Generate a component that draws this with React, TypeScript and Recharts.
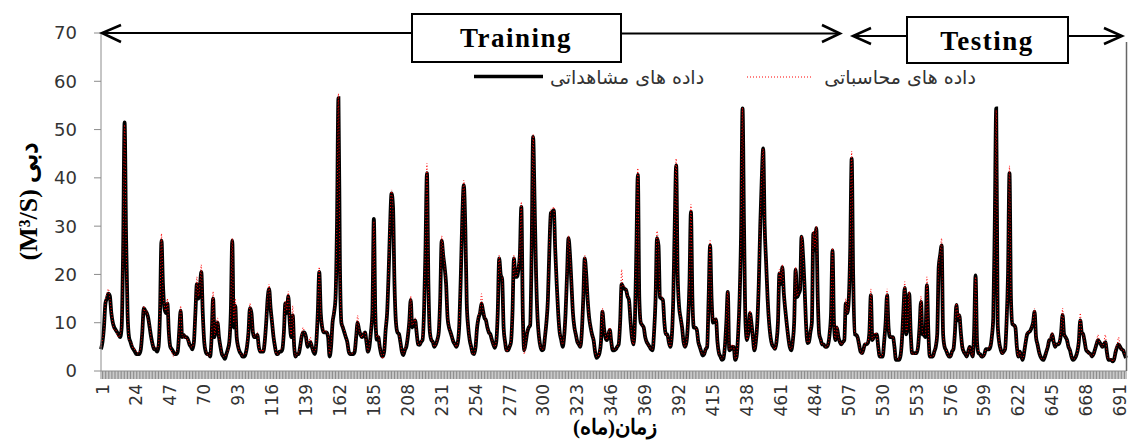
import React from "react";
import { LineChart, Line, XAxis, YAxis } from "recharts";

// monthly discharge (m3/s), observed, training period (months 1-504)
const observedTraining = [
  4.5, 6, 9, 14, 15, 16, 15.5, 12, 10, 9, 8.5, 8,
  7.5, 7, 9, 25, 51.5, 28, 12, 7, 6, 5, 4.5, 4,
  3.5, 3.5, 3.5, 4.5, 8, 13, 12.5, 12, 11, 9, 7, 5.5,
  4.5, 4.5, 4, 5, 12, 27, 18, 13, 12, 14, 8, 5,
  4.5, 4, 3.5, 3.5, 4, 8, 12.5, 7, 7.5, 7, 7, 6.5,
  5.5, 5, 4.5, 6, 12, 18, 15, 17, 20.5, 12, 6, 4,
  3.5, 3.5, 3, 7, 15, 7, 9, 10, 7, 5, 3.5, 3,
  2.5, 3.5, 4.5, 6, 12, 27, 9, 13.5, 7, 5, 4, 3.5,
  3, 3, 3.5, 5, 8, 13, 12, 8, 7, 7, 7.5, 5,
  4, 4, 4, 6, 10, 15, 17, 13, 10, 7, 5, 3.5,
  3.5, 4, 4, 4.5, 8, 14, 12, 15.5, 10, 7, 11.5, 5,
  3, 3.5, 3.5, 5, 7, 8, 8, 7, 5, 5.5, 6, 5,
  4, 3.5, 6, 12, 20.5, 12, 9, 8, 8, 8, 7, 3,
  5, 10, 12, 15, 30, 56.5, 22, 10, 9, 8, 7, 6,
  4, 3.5, 3.5, 3.5, 4, 7, 10, 8.5, 7.5, 7, 7.5, 8,
  6, 4, 5, 8, 12, 31.5, 12, 6.5, 7, 5, 3.5, 3,
  4, 8.5, 12, 20, 30, 36.8, 34, 18, 10, 8, 7.7, 6,
  4, 3.3, 4.3, 5, 7, 10, 14.7, 9, 9.5, 10.5, 8, 5.5,
  5.4, 6, 6.4, 12, 25, 41, 18, 8, 6.4, 6, 5, 5.5,
  6.4, 8, 15, 27, 24, 21.5, 18, 11, 9, 8, 7, 6,
  5.5, 5, 6, 10, 20, 32, 38.5, 30, 14, 9, 6.4, 5,
  3.7, 3.5, 5, 9, 11, 12, 14, 12.5, 11, 10.5, 9, 8,
  7.6, 6.5, 5.5, 4.8, 6, 12, 23.3, 20, 19, 9, 6, 4.3,
  4.3, 5, 6, 12, 23.3, 19.5, 19.5, 21, 24, 34, 12, 4.3,
  6, 8, 9, 9.5, 25, 48.5, 35, 20, 11, 7, 5, 4.3,
  4.5, 7, 10, 14.7, 25, 32.7, 33, 33.3, 25, 18, 12, 8,
  6.5, 5, 7, 12, 20, 27.5, 24, 18, 12, 9, 7.5, 6,
  5.5, 5, 8, 15, 23.3, 20, 14.7, 11, 9, 7.5, 6.4, 4,
  2.7, 3, 3.7, 6, 12.3, 9, 7, 6.4, 7.5, 8.5, 6, 4.3,
  4.3, 4.5, 5, 5.5, 10, 18, 17.4, 17, 16.8, 15.5, 14.7, 10.5,
  7, 5.5, 10, 25, 40.6, 15, 10, 9.5, 9, 7, 6, 5.5,
  5, 4.5, 4.3, 8, 14.7, 27.5, 26, 15.3, 15, 14.7, 10, 7.6,
  7.6, 6, 5, 7, 14.7, 30, 42.6, 20, 13.3, 11, 9, 6,
  5, 6, 10, 18, 33, 15, 9, 9, 8.5, 6, 5, 4,
  3.2, 3.5, 4.5, 5, 15, 26, 15, 10, 10.5, 10.7, 6, 3.7,
  3, 2.3, 2.5, 5, 10, 16.4, 4.3, 4.5, 5, 5, 2.3, 3,
  7.6, 15, 28.5, 54.4, 30, 10, 6.4, 8, 12, 10, 7, 4.3,
  6, 10, 18, 30, 39.5, 46.1, 30, 22.4, 15, 10, 7, 5.5,
  5, 4.6, 6, 10, 20.2, 18, 21.5, 16, 12.6, 9.7, 7, 5,
  4.3, 6, 10, 21, 15.3, 16, 16.8, 27.8, 24, 17.8, 10, 5.8,
  6, 8, 10, 28.5, 25, 29.6, 15, 7.6, 6.5, 5.5, 5.5, 5,
  5, 5.5, 7.6, 12, 25, 10, 6.4, 9, 7, 6, 5.5, 6,
];

// observed, testing period (months 505-696)
const observedTesting = [
  6.4, 14, 12, 14.7, 25, 44, 20, 7.6, 7.5, 7, 5.5, 4,
  3.7, 4.5, 5.5, 5.5, 5.8, 8, 15.7, 6.4, 7, 7.5, 7.6, 5,
  3, 3, 3, 6, 10, 15.7, 9, 7, 7, 7, 5, 2.3,
  2.3, 2.3, 3, 6, 12, 17.2, 7.6, 10, 16, 8, 3.7, 3.7,
  3.7, 3.7, 5, 9, 14.3, 7.6, 7.5, 7, 17.8, 8, 3, 3,
  3, 4, 5, 7.6, 21.5, 24, 26, 7.6, 5, 4.3, 3.5, 3,
  3, 4, 4.5, 8, 13.7, 10.5, 11.5, 8, 5, 4, 3.5, 3,
  4, 5, 4, 3, 8, 19.8, 6, 3.7, 3.5, 3, 3, 3.5,
  4.5, 4.5, 4.5, 5, 7, 11, 30, 54.4, 9.7, 6, 4.5, 3.7,
  4, 4.5, 10, 20, 41, 15, 9.7, 9.5, 9, 5, 3, 4,
  3, 2.3, 4, 6, 7.6, 8, 8.3, 9, 10, 12.3, 7, 5.5,
  4, 3, 2.5, 2.3, 3, 4, 5, 6.4, 6.5, 7.6, 6, 5,
  5.5, 5.5, 6, 8, 11.6, 7.6, 7, 6.4, 5, 4.3, 3, 2.3,
  2.5, 3, 4, 6, 10.5, 8, 7.6, 6, 4.3, 4, 3.7, 3.5,
  3, 3.5, 4.5, 5.5, 6.4, 6, 5.5, 5, 5.5, 6, 4, 2.3,
  2.3, 2.3, 2, 2.5, 4, 5, 5.5, 5, 4.5, 4.3, 3.5, 2.7,
];

// model output, training period
const computedTraining = [
  5, 6.5, 8.5, 14.5, 16, 17, 15, 12.5, 10, 8.5, 8.5, 7.5,
  7, 7.5, 9.5, 26, 51, 27, 12.5, 6.5, 6, 5.5, 4.5, 4.5,
  4, 3.5, 4, 5, 8.5, 13.5, 12, 12.5, 10.5, 9.5, 6.5, 5.5,
  4.5, 5, 4.5, 5.5, 13, 28.5, 17, 13.5, 12.5, 15, 7.5, 5,
  4, 3, 3.5, 4, 4.5, 8.5, 13.5, 7.5, 7, 7.5, 6.5, 6.5,
  5.5, 5, 5, 6.5, 12.5, 19.5, 15.5, 17.5, 22, 11, 6.5, 4.5,
  3.5, 3, 3.5, 7.5, 16.5, 7.5, 9.5, 11, 7, 5.5, 3.5, 3,
  3, 3.5, 4, 6.5, 12.5, 27.5, 10, 15, 7.5, 5, 4, 3.5,
  3, 3.5, 3.5, 5.5, 8.5, 14, 12, 8.5, 7, 7.5, 8, 5,
  4, 4.5, 4, 6.5, 10.5, 15.5, 18, 13, 10.5, 7.5, 5, 3.5,
  3.5, 4, 4.5, 5, 8.5, 14.5, 12.5, 16.5, 10, 7.5, 13.5, 5.5,
  3, 3.5, 4, 5, 7.5, 9, 8, 7, 5.5, 6, 7, 5,
  4, 4, 6.5, 12.5, 21.5, 12, 9.5, 8, 8.5, 8, 7.5, 3.5,
  5.5, 10.5, 12.5, 15, 31, 57.5, 21, 10.5, 9, 8.5, 7, 6,
  4, 3.5, 3.5, 4, 4.5, 7.5, 11.5, 8.5, 7.5, 7, 8, 8,
  6, 4, 5.5, 8.5, 12, 31, 12.5, 7, 7.5, 5, 3.5, 2.5,
  4.5, 9, 12.5, 21, 31, 37.5, 33, 18.5, 10.5, 8, 7.5, 6,
  4, 3.5, 4.5, 5.5, 7.5, 10.5, 15.5, 9.5, 10, 11, 8, 5.5,
  5.5, 6, 7, 12.5, 26, 43, 17, 8.5, 6.5, 6, 5, 5.5,
  6.5, 8.5, 15.5, 28, 25, 22, 17.5, 11.5, 9, 8, 7, 6,
  5.5, 5, 6.5, 10.5, 21, 33, 39.5, 31, 14.5, 9, 6.5, 5,
  3.5, 3.5, 5.5, 9.5, 11.5, 12.5, 16, 12.5, 11.5, 10.5, 9, 8,
  7.5, 6.5, 5.5, 5, 6.5, 12.5, 24, 20, 19.5, 9, 6, 4,
  4.5, 5, 6.5, 12.5, 24, 19.5, 20, 22, 24.5, 35, 12.5, 3.5,
  6, 8.5, 9, 10, 25.5, 49, 35.5, 20, 11.5, 7, 5, 4.5,
  4.5, 7.5, 10.5, 15, 25.5, 33.5, 33.5, 34, 24.5, 18, 12, 8,
  6.5, 5.5, 7.5, 12.5, 20.5, 28, 24, 18.5, 12, 9, 7.5, 6,
  5.5, 5, 8.5, 15.5, 24, 20, 15, 11, 9, 7.5, 6.5, 4,
  3, 3, 4, 6.5, 13, 9, 7.5, 6.5, 8, 9, 6, 4.5,
  4.5, 4.5, 5, 6, 10.5, 21, 17.5, 17.5, 17, 15.5, 15, 10.5,
  7, 5.5, 10.5, 26, 42, 15, 10.5, 9.5, 9, 7, 6, 5.5,
  5, 4.5, 4.5, 8.5, 15.5, 29, 26, 15.5, 15.5, 14.5, 10, 7.5,
  7.5, 6, 5, 7.5, 15, 31, 44, 20, 13.5, 11, 9, 6,
  5, 6, 10.5, 18.5, 34.5, 15, 9.5, 9, 8.5, 6, 5, 4,
  3.5, 3.5, 4.5, 5.5, 15.5, 27, 15, 10.5, 10.5, 11, 6, 3.5,
  3, 2.5, 3, 5.5, 10.5, 16.5, 4.5, 4.5, 5.5, 5, 2.5, 3,
  8, 15.5, 29, 54.5, 29, 10.5, 6.5, 8, 12.5, 10, 7, 4.5,
  6, 10.5, 18.5, 31, 40, 46, 29, 22.5, 15, 10, 7, 5.5,
  5, 4.5, 6.5, 10.5, 21, 18.5, 22, 16, 12.5, 9.5, 7, 5,
  4.5, 6, 10.5, 21.5, 15.5, 16.5, 17, 28, 24, 17.5, 10, 6,
  6, 8.5, 10.5, 29, 25.5, 30, 15, 7.5, 6.5, 5.5, 5.5, 5,
  5, 5.5, 8, 12.5, 25.5, 10, 6.5, 9.5, 7, 6, 5.5, 6,
];

// model output, testing period
const computedTesting = [
  6.5, 15, 12, 15, 26, 45.5, 20, 8, 7.5, 7, 5.5, 4,
  3.5, 4.5, 5.5, 6, 6, 8.5, 17, 6.5, 7, 8, 7.5, 5,
  3, 3, 3.5, 6.5, 10.5, 17, 9, 7.5, 7, 7, 5, 2.5,
  2.5, 2.5, 3, 6.5, 12.5, 18.5, 8, 10.5, 16.5, 8, 3.5, 3.5,
  3.5, 4, 5.5, 9.5, 15.5, 8, 7.5, 7.5, 19.5, 8, 3, 3,
  3, 4, 5.5, 8, 22, 24.5, 27.5, 8, 5, 4.5, 3.5, 3,
  3, 4, 5, 8.5, 14, 11, 12, 8, 5, 4, 3.5, 3,
  4, 5, 4, 3, 8.5, 19.5, 6.5, 4, 3.5, 3, 3, 3.5,
  4.5, 4.5, 5, 5, 7.5, 11.5, 30, 54, 10, 6, 4.5, 3.5,
  4, 4.5, 10.5, 21, 42.5, 15, 10, 9.5, 9, 5, 3, 4,
  3, 2.5, 4, 6.5, 8, 8, 8.5, 9, 10.5, 13, 7, 5.5,
  4, 3, 2.5, 2.5, 3, 4, 5.5, 6.5, 7, 8, 6, 5,
  5.5, 5.5, 6.5, 8.5, 13, 7.5, 7, 6.5, 5, 4.5, 3, 2.5,
  2.5, 3, 4, 6.5, 12, 8, 7.5, 6, 4.5, 4, 3.5, 3.5,
  3, 3.5, 4.5, 6, 7.5, 6, 5.5, 5, 6, 7.5, 4, 2.5,
  2.5, 2.5, 2, 2.5, 4.5, 5.5, 7, 5, 4.5, 4.5, 3.5, 3,
];

const labelMonths = [1, 24, 47, 70, 93, 116, 139, 162, 185, 208, 231, 254, 277, 300, 323, 346, 369, 392, 415, 438, 461, 484, 507, 530, 553, 576, 599, 622, 645, 668, 691];
const yTicks = [0, 10, 20, 30, 40, 50, 60, 70];

const observed = [...observedTraining, ...observedTesting];
const computed = [...computedTraining, ...computedTesting];
const data = observed.map((v, i) => ({ month: i + 1, observed: v, computed: computed[i] }));
const allMonths = data.map((d) => d.month);

function MonthTick(props: any) {
  const { x, y, payload } = props;
  const showLabel = labelMonths.includes(payload.value);
  const lx = x + 7.5;
  const ly = y + 13;
  return (
    <g>
      <line x1={x} x2={x} y1={y} y2={y + 8} stroke="#8c8c8c" strokeWidth={1} />
      {showLabel && (
        <text
          x={lx}
          y={ly}
          transform={`rotate(-90, ${lx}, ${ly})`}
          textAnchor="end"
          fontSize={17}
          fontFamily="DejaVu Sans"
          fill="#333"
        >
          {payload.value}
        </text>
      )}
    </g>
  );
}

export default function App() {
  return (
    <div style={{ position: "absolute", left: 0, top: 0, width: 1129, height: 440, background: "#fff" }}>
      <LineChart width={1129} height={440} data={data} margin={{ top: 33, right: 3, bottom: 0, left: 0 }}>
        <XAxis
          dataKey="month"
          type="number"
          domain={[1, 696]}
          ticks={allMonths}
          interval={0}
          tickLine={false}
          tickSize={0}
          tickMargin={0}
          height={69}
          axisLine={{ stroke: "#8c8c8c" }}
          tick={(p: any) => <MonthTick {...p} />}
        />
        <YAxis
          domain={[0, 70]}
          ticks={yTicks}
          width={101}
          tickSize={7}
          tickMargin={17}
          axisLine={{ stroke: "#8c8c8c" }}
          tickLine={{ stroke: "#8c8c8c" }}
          tick={{ fontSize: 18, fontFamily: "DejaVu Sans", fill: "#333" }}
        />
        <Line type="monotone" dataKey="observed" stroke="#000" strokeWidth={3.8} dot={false} isAnimationActive={false} />
        <Line type="monotone" dataKey="computed" stroke="#ff0000" strokeWidth={1} strokeDasharray="1 2" dot={false} isAnimationActive={false} />
      </LineChart>

      <svg width={1129} height={440} style={{ position: "absolute", left: 0, top: 0, pointerEvents: "none" }}>
        {/* training bracket */}
        <line x1={101} y1={33} x2={412} y2={33} stroke="#000" strokeWidth={2} />
        <line x1={621} y1={33.5} x2={840} y2={33.5} stroke="#000" strokeWidth={2} />
        <polyline points="121,25 102,33 121,42" fill="none" stroke="#000" strokeWidth={2.5} />
        <polyline points="822,25 840,33.5 822,42" fill="none" stroke="#000" strokeWidth={2.5} />
        <rect x={412} y={14} width={209} height={48} fill="#fff" stroke="#000" strokeWidth={2} />
        <text x={516} y={47} textAnchor="middle" fontFamily="Liberation Serif" fontWeight="bold" fontSize={27} letterSpacing={1.5}>
          Training
        </text>

        {/* testing bracket */}
        <line x1={852} y1={36} x2={907} y2={36} stroke="#000" strokeWidth={2} />
        <line x1={1068} y1={36} x2={1122} y2={36} stroke="#000" strokeWidth={2} />
        <polyline points="871,28 853,36 871,44" fill="none" stroke="#000" strokeWidth={2.5} />
        <polyline points="1104,28 1122,36 1104,44" fill="none" stroke="#000" strokeWidth={2.5} />
        <rect x={907} y={17} width={161} height={46} fill="#fff" stroke="#000" strokeWidth={2} />
        <text x={987} y={50} textAnchor="middle" fontFamily="Liberation Serif" fontWeight="bold" fontSize={27} letterSpacing={1.5}>
          Testing
        </text>
        <line x1={1126.5} y1={42} x2={1126.5} y2={371} stroke="#666" strokeWidth={1.5} />

        {/* legend */}
        <line x1={474} y1={76.5} x2={543} y2={76.5} stroke="#000" strokeWidth={3.5} />
        <text x={627} y={84} textAnchor="middle" fontFamily="DejaVu Sans" fontSize={19} fill="#333">
          داده های مشاهداتی
        </text>
        <line x1={747} y1={77} x2={811} y2={77} stroke="#ff0000" strokeWidth={1} strokeDasharray="1 2" />
        <text x={900} y={84} textAnchor="middle" fontFamily="DejaVu Sans" fontSize={19} fill="#333">
          داده های محاسباتی
        </text>

        {/* axis titles */}
        <text x={37} y={201} transform="rotate(-90, 37, 201)" textAnchor="middle" fontFamily="Liberation Serif" fontWeight="bold" fontSize={26}>
          (M³/S) دبی
        </text>
        <text x={615} y={434} textAnchor="middle" fontFamily="Liberation Serif" fontWeight="bold" fontSize={21}>
          زمان(ماه)
        </text>
      </svg>
    </div>
  );
}
